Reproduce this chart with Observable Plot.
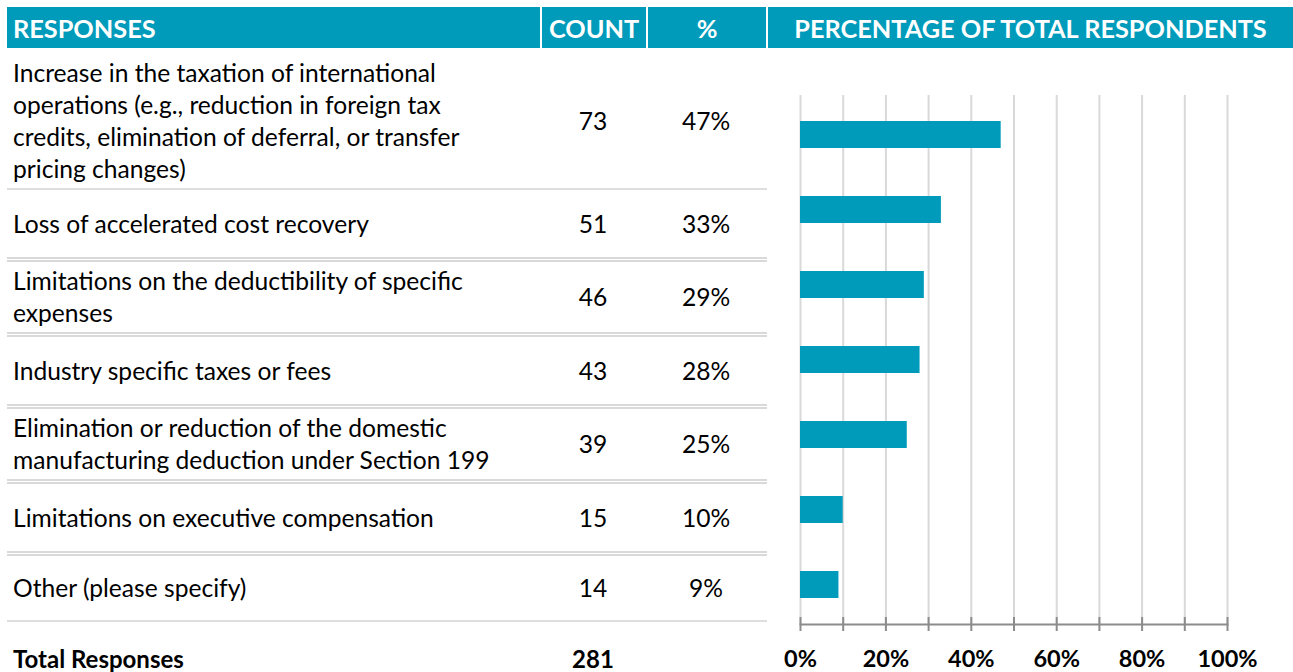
<!DOCTYPE html>
<html>
<head>
<meta charset="utf-8">
<script src="https://cdn.jsdelivr.net/npm/d3@7"></script>
<script src="https://cdn.jsdelivr.net/npm/@observablehq/plot@0.6"></script>
<style>
  html, body { margin: 0; padding: 0; background: #fff; }
  body { font-family: Lato, "Open Sans", sans-serif; color: #000; }
  #root { position: relative; width: 1293px; height: 672px; overflow: hidden; }
  .hdr { position: absolute; top: 7px; height: 41px; line-height: 42px; background: #009bbb;
         color: #fff; font-weight: 700; font-size: 25.3px; white-space: nowrap; }
  .hdr.c { text-align: center; }
  #table { position: absolute; top: 54px; left: 7px; width: 760px; }
  .row { display: flex; align-items: center; box-sizing: border-box; min-height: 72px;
         padding: 3px 0; border-bottom: 5px double #d9d9d9; font-size: 24.6px; line-height: 32px; }
  .row.first { border-bottom: 2px solid #dedede; }
  .row.last { border-bottom: 2px solid #dedede; min-height: 66px; }
  .resp { width: 533px; box-sizing: border-box; padding-left: 6px; }
  .resp span { display: block; width: 500px; }
  .num { width: 106px; text-align: center; }
  .pct { width: 120px; text-align: center; }
  #total { position: absolute; top: 640px; left: 7px; height: 38px; line-height: 38px; display: flex;
           font-weight: 700; font-size: 24px; }
  #plot { position: absolute; left: 767px; top: 52px; }
</style>
</head>
<body>
<div id="root">
  <div id="header"></div>
  <div id="table"></div>
  <div id="total"></div>
  <div id="plot"></div>
</div>
<script>
const headers = ["RESPONSES", "COUNT", "%", "PERCENTAGE OF TOTAL RESPONDENTS"];
const responses = [
  "Increase in the taxation of international operations (e.g., reduction in foreign tax credits, elimination of deferral, or transfer pricing changes)",
  "Loss of accelerated cost recovery",
  "Limitations on the deductibility of specific expenses",
  "Industry specific taxes or fees",
  "Elimination or reduction of the domestic manufacturing deduction under Section 199",
  "Limitations on executive compensation",
  "Other (please specify)"
];
const counts = [73, 51, 46, 43, 39, 15, 14];
const percents = [47, 33, 29, 28, 25, 10, 9];
const totalLabel = "Total Responses";
const totalCount = 281;
const gridTicks = [0, 10, 20, 30, 40, 50, 60, 70, 80, 90, 100];
const labelTicks = [0, 20, 40, 60, 80, 100];

// Header
const hdr = document.getElementById("header");
const hdrCells = [
  {left: 7, width: 533, cls: "", pad: 6},
  {left: 542, width: 104, cls: "c", pad: 0},
  {left: 648, width: 118, cls: "c", pad: 0},
  {left: 768, width: 525, cls: "c", pad: 0}
];
headers.forEach((h, i) => {
  const d = document.createElement("div");
  d.className = "hdr " + hdrCells[i].cls;
  d.style.left = hdrCells[i].left + "px";
  d.style.width = (hdrCells[i].width - hdrCells[i].pad) + "px";
  d.style.paddingLeft = hdrCells[i].pad + "px";
  d.textContent = h;
  hdr.appendChild(d);
});

// Table rows
const table = document.getElementById("table");
responses.forEach((r, i) => {
  const row = document.createElement("div");
  row.className = "row" + (i === 0 ? " first" : "") + (i === responses.length - 1 ? " last" : "");
  const c1 = document.createElement("div"); c1.className = "resp";
  const s = document.createElement("span"); s.textContent = r; c1.appendChild(s);
  const c2 = document.createElement("div"); c2.className = "num"; c2.textContent = counts[i];
  const c3 = document.createElement("div"); c3.className = "pct"; c3.textContent = percents[i] + "%";
  row.append(c1, c2, c3);
  table.appendChild(row);
});

// Total row
const tot = document.getElementById("total");
const t1 = document.createElement("div"); t1.className = "resp"; t1.textContent = totalLabel;
const t2 = document.createElement("div"); t2.className = "num"; t2.textContent = totalCount;
tot.append(t1, t2);

// Bar chart
const data = responses.map((r, i) => ({response: r, pct: percents[i]}));
const chart = Plot.plot({
  width: 526,
  height: 620,
  marginLeft: 33,
  marginRight: 66,
  marginTop: 43,
  marginBottom: 48,
  x: {domain: [0, 100], label: null},
  y: {domain: responses, paddingInner: 0.64, paddingOuter: 0.32, axis: null},
  style: {fontFamily: "Lato, sans-serif", background: "transparent", overflow: "visible"},
  marks: [
    Plot.gridX(gridTicks, {stroke: "#d9d9d9", strokeWidth: 2, strokeOpacity: 1}),
    Plot.barX(data, {x: "pct", y: "response", fill: "#009bbb"}),
    Plot.frame({anchor: "bottom", stroke: "#8c8c8c", strokeWidth: 2}),
    Plot.axisX(gridTicks, {tickSize: 14, dy: -7, tickFormat: () => "", stroke: "#8c8c8c", strokeWidth: 2,
      strokeOpacity: 1, label: null}),
    Plot.axisX(labelTicks, {tickSize: 0, tickPadding: 26, tickFormat: d => d + "%",
      fontSize: 23.5, fontWeight: "bold", fill: "#000", label: null})
  ]
});
document.getElementById("plot").appendChild(chart);
</script>
</body>
</html>
